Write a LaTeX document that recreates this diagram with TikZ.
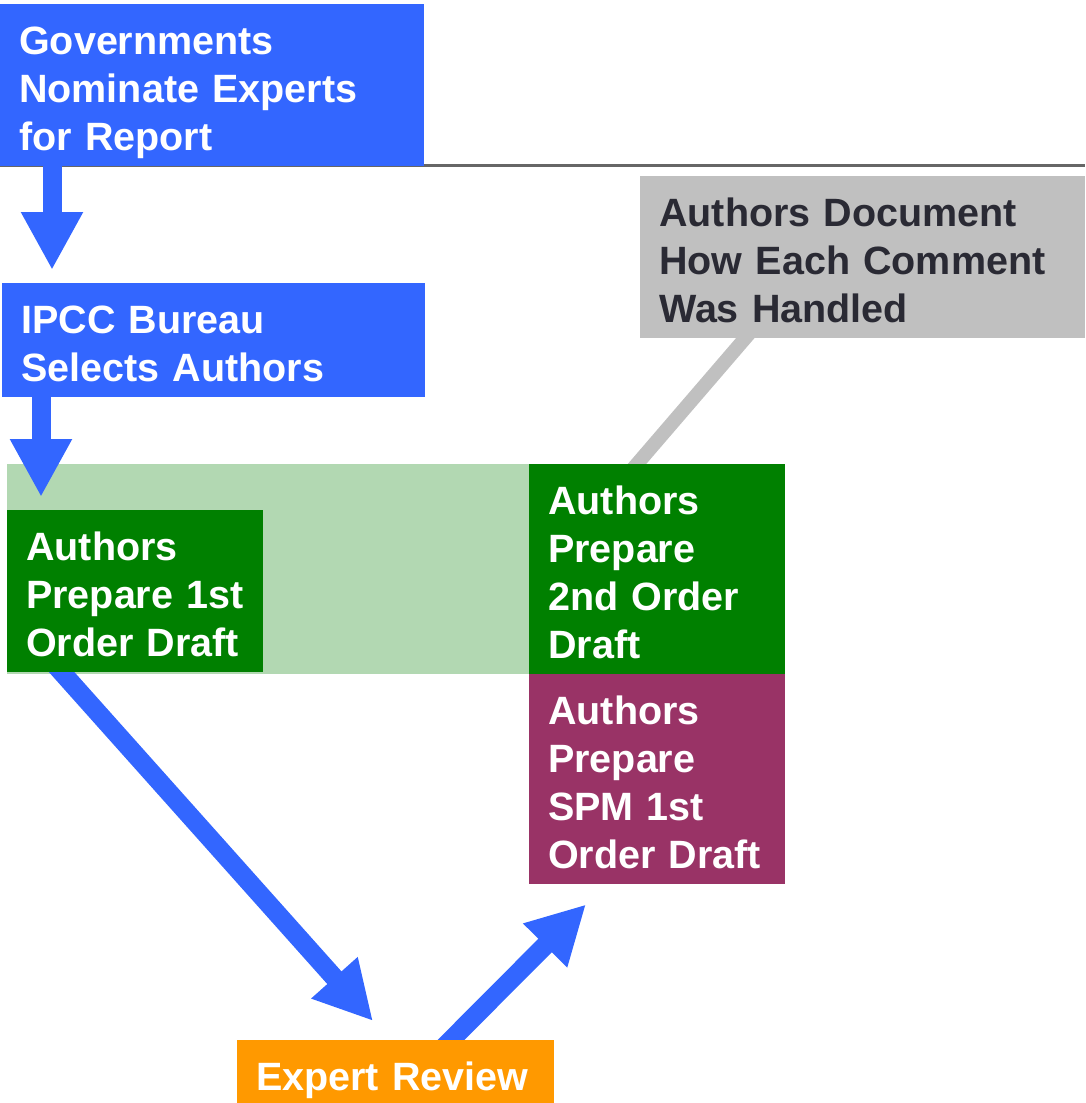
\documentclass[tikz,border=0pt]{standalone}
\usepackage{fontspec}
\setmainfont{Liberation Sans}
\usetikzlibrary{arrows.meta}
\definecolor{ipccblue}{RGB}{51,102,255}
\definecolor{draftgreen}{RGB}{0,128,0}
\definecolor{bandgreen}{RGB}{178,216,178}
\definecolor{spmpurple}{RGB}{153,51,102}
\definecolor{revieworange}{RGB}{255,153,0}
\definecolor{notegray}{RGB}{192,192,192}
\definecolor{notetext}{RGB}{42,42,52}
\definecolor{rulegray}{RGB}{102,102,102}
\pgfdeclarelayer{bg}
\pgfdeclarelayer{mid}
\pgfsetlayers{bg,mid,main}

\begin{document}
\begin{tikzpicture}[
    x=1pt, y=-1pt,
    stagebox/.style={rectangle, anchor=north west, align=left, text=white,
        font=\fontsize{39.5}{48}\selectfont\bfseries,
        inner xsep=19pt, inner ysep=20pt, text height=30pt},
    flow/.style={draw=ipccblue, line width=19pt, -{Triangle[length=58pt,width=58pt]}},
]
    \useasboundingbox (0,0) rectangle (1085,1103);

    %Nodes
    \node[stagebox, fill=ipccblue, text width=386pt, text depth=92pt] (gov) at (0,4) {Governments\\Nominate Experts\\for Report};
    \node[stagebox, fill=ipccblue, text width=385pt, text depth=44pt] (bureau) at (2,283) {IPCC Bureau\\Selects Authors};
    \node[stagebox, fill=draftgreen, text width=218pt, text depth=92pt] (draft1) at (7,510) {Authors\\Prepare 1st\\Order Draft};
    \node[stagebox, fill=draftgreen, text width=218pt, text depth=140pt] (draft2) at (529,464) {Authors\\Prepare\\2nd Order\\Draft};
    \node[stagebox, fill=spmpurple, text width=218pt, text depth=140pt] (spm) at (529,674) {Authors\\Prepare\\SPM 1st\\Order Draft};
    \node[stagebox, fill=notegray, text=notetext, text width=407pt, text depth=92pt] (note) at (640,176) {Authors Document\\How Each Comment\\Was Handled};
    \node[stagebox, fill=revieworange, text width=279pt, text depth=5pt] (review) at (237,1040) {Expert Review};

    %Background
    \begin{pgfonlayer}{bg}
        \draw[rulegray, line width=3pt] (0,165) -- (1085,165);
        \node[fill=bandgreen, anchor=north west, inner sep=0pt, minimum width=522pt, minimum height=210pt] (band) at (7,464) {};
    \end{pgfonlayer}

    %Lines
    \begin{pgfonlayer}{mid}
        \draw[flow] ([xshift=52pt]gov.south west) -- ([xshift=50pt,yshift=13pt]bureau.north west);
        \draw[flow] ([xshift=39pt]bureau.south west) -- ([xshift=34pt,yshift=13pt]draft1.north west);
        \draw[flow] ([xshift=46pt,yshift=10pt]draft1.south west) -- ([xshift=136pt,yshift=19pt]review.north west);
        \draw[flow] ([xshift=204pt,yshift=-10pt]review.north west) -- ([xshift=57pt,yshift=-20pt]spm.south west);
        \draw[notegray, line width=14pt] ([xshift=113.6pt,yshift=10pt]note.south west) -- ([xshift=99.4pt,yshift=-10pt]draft2.north west);
    \end{pgfonlayer}
\end{tikzpicture}
\end{document}
